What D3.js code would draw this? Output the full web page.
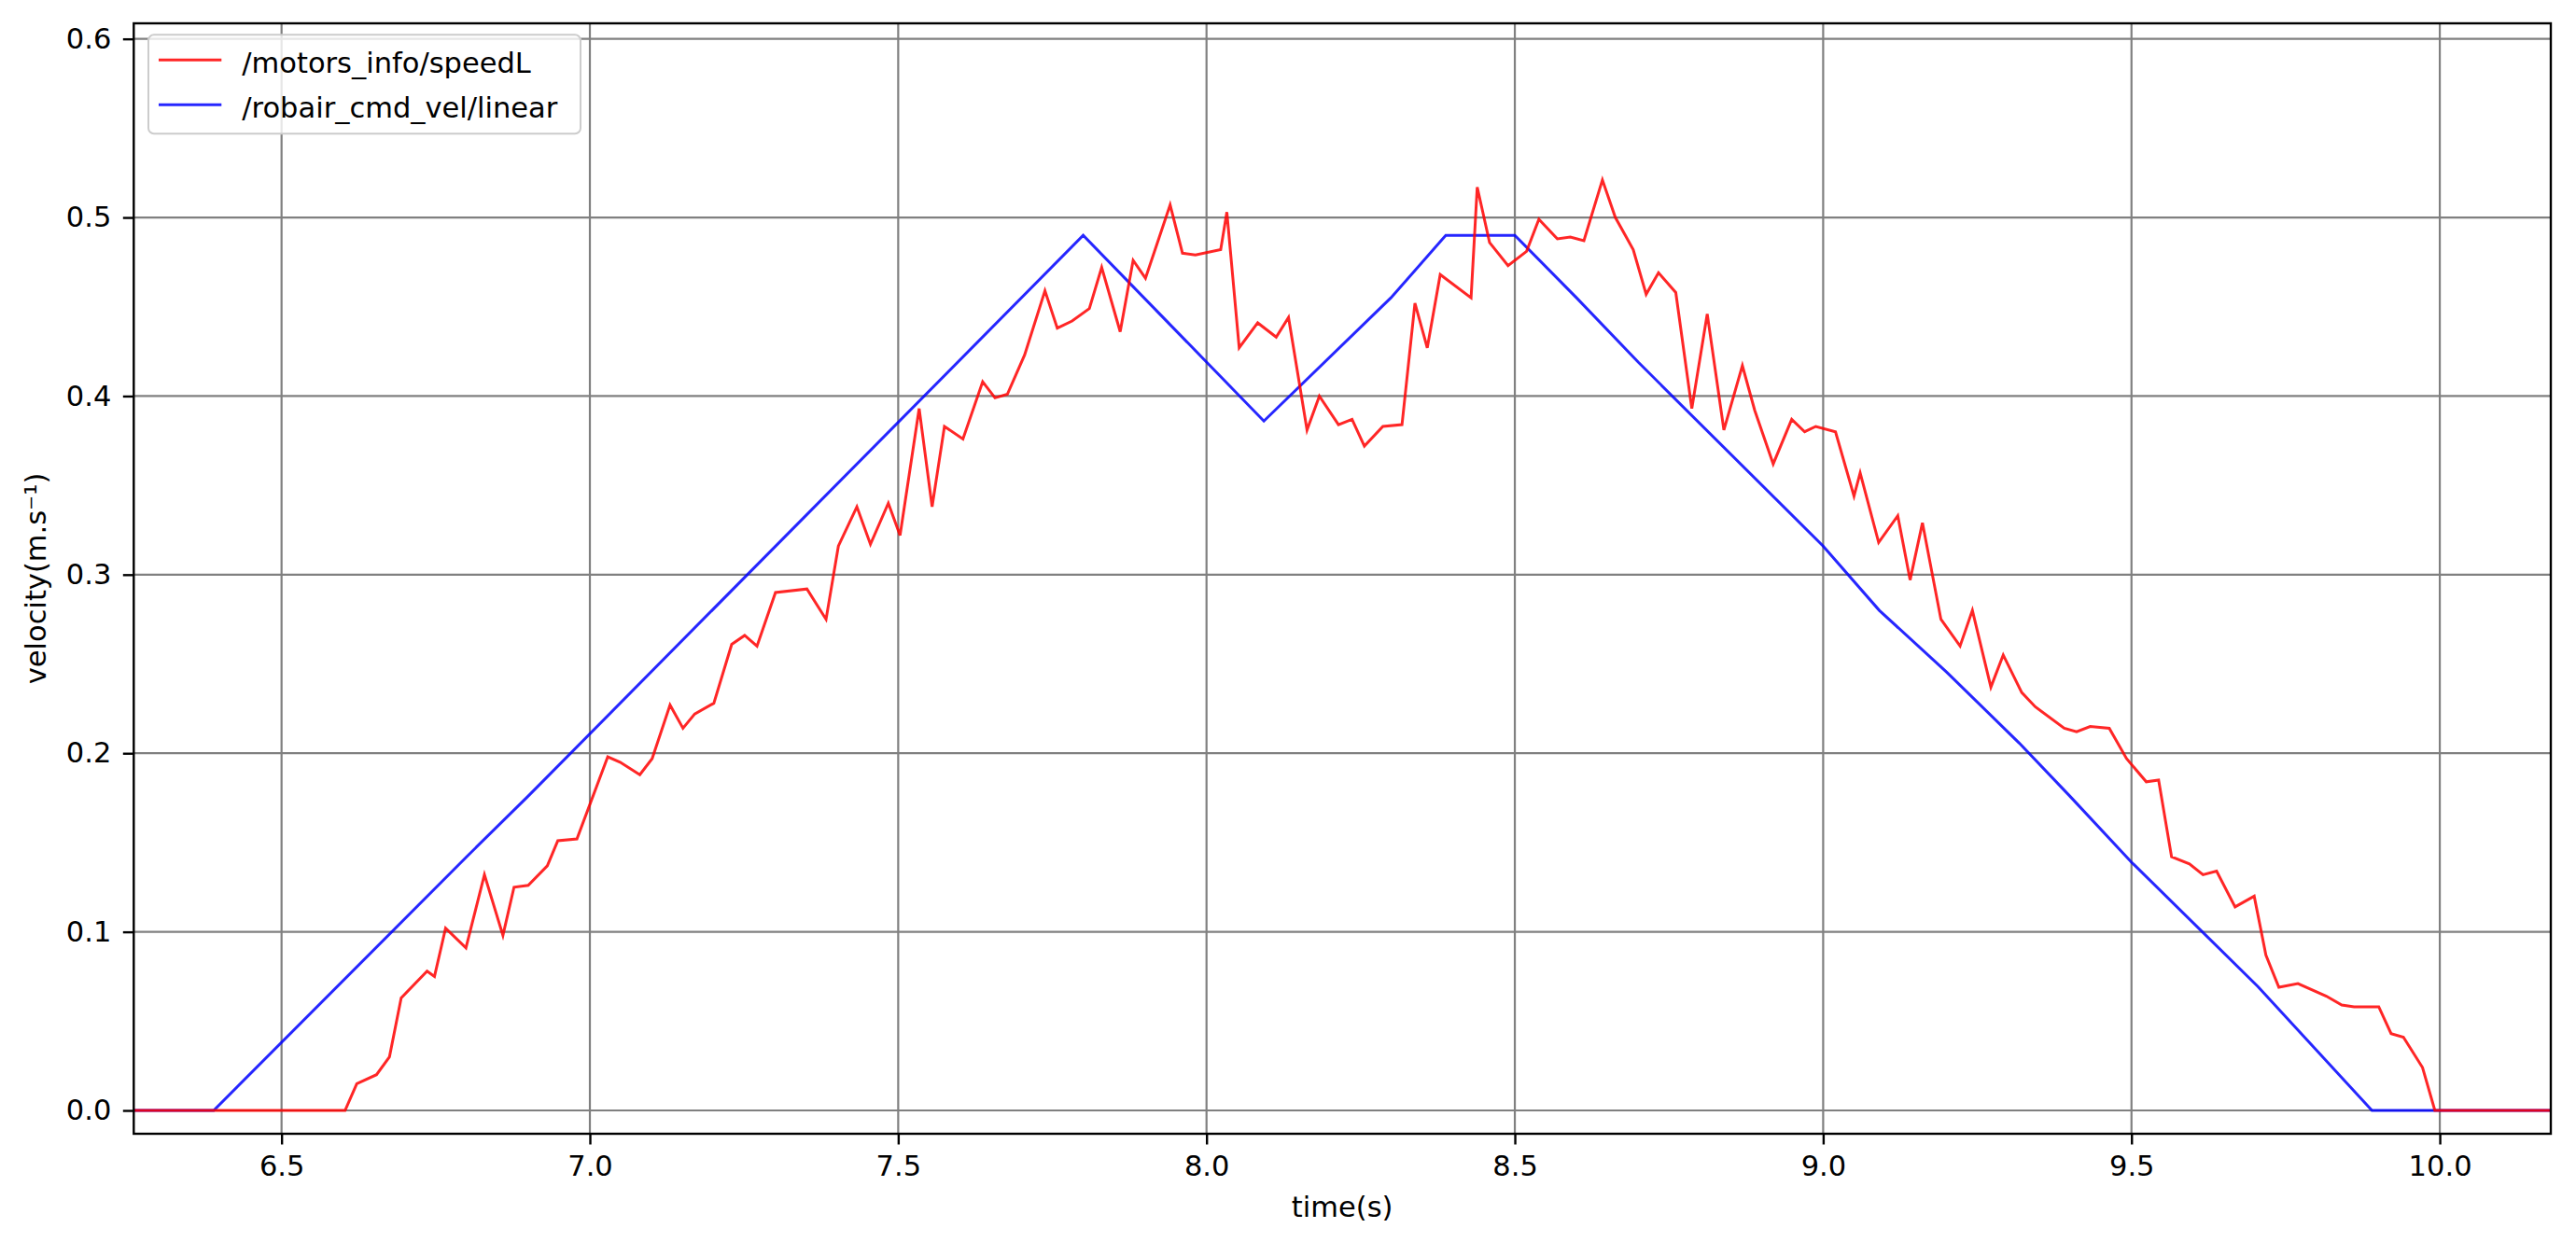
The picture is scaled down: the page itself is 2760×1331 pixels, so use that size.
<!DOCTYPE html>
<html><head><meta charset="utf-8">
<script src="https://cdn.jsdelivr.net/npm/d3@7"></script>
<style>body{margin:0;background:#fff}svg{display:block}</style>
</head><body>
<script>
// ---------- data ----------
const seriesNames = ["/motors_info/speedL", "/robair_cmd_vel/linear"];
const xTicks = [6.5, 7.0, 7.5, 8.0, 8.5, 9.0, 9.5, 10.0];
const yTicks = [0.0, 0.1, 0.2, 0.3, 0.4, 0.5, 0.6];
const xLabel = "time(s)";
const yLabel = "velocity(m.s\u207B\u00B9)";

const redT = [6.2603, 6.603, 6.622, 6.654, 6.675, 6.694, 6.736, 6.748, 6.766, 6.799, 6.829, 6.859, 6.877, 6.900, 6.931, 6.948, 6.979,
  7.029, 7.049, 7.081, 7.101, 7.130, 7.151, 7.170, 7.201, 7.230, 7.251, 7.271, 7.301, 7.352, 7.383, 7.403, 7.433, 7.455, 7.484,
  7.503, 7.534, 7.555, 7.575, 7.605, 7.637, 7.657, 7.677, 7.705, 7.738, 7.758, 7.782, 7.810, 7.830, 7.860, 7.881, 7.901, 7.941,
  7.961, 7.982, 8.023, 8.033, 8.053, 8.083, 8.113, 8.133, 8.163, 8.183, 8.214, 8.236, 8.256, 8.286, 8.317, 8.338, 8.358, 8.379,
  8.429, 8.439, 8.459, 8.489, 8.519, 8.539, 8.569, 8.590, 8.612, 8.642, 8.663, 8.692, 8.713, 8.733, 8.761, 8.787, 8.812, 8.839,
  8.869, 8.889, 8.919, 8.949, 8.970, 8.988, 9.020, 9.050, 9.060, 9.090, 9.121, 9.141, 9.161, 9.191, 9.222, 9.242, 9.272, 9.292,
  9.322, 9.344, 9.391, 9.411, 9.433, 9.464, 9.492, 9.524, 9.544, 9.565, 9.594, 9.616, 9.638, 9.668, 9.699, 9.718, 9.739, 9.770,
  9.816, 9.841, 9.861, 9.901, 9.921, 9.941, 9.972, 9.992, 10.180];
const redV = [0, 0, 0.015, 0.020, 0.030, 0.063, 0.078, 0.075, 0.102, 0.091, 0.132, 0.098, 0.125, 0.126, 0.137, 0.151, 0.152,
  0.198, 0.195, 0.188, 0.197, 0.227, 0.214, 0.222, 0.228, 0.261, 0.266, 0.260, 0.290, 0.292, 0.275, 0.316, 0.338, 0.317, 0.340,
  0.322, 0.393, 0.338, 0.383, 0.376, 0.408, 0.399, 0.401, 0.423, 0.459, 0.438, 0.442, 0.449, 0.472, 0.436, 0.476, 0.466, 0.507,
  0.480, 0.479, 0.482, 0.503, 0.427, 0.441, 0.433, 0.444, 0.381, 0.400, 0.384, 0.387, 0.372, 0.383, 0.384, 0.452, 0.427, 0.468,
  0.455, 0.517, 0.486, 0.473, 0.481, 0.499, 0.488, 0.489, 0.487, 0.521, 0.500, 0.482, 0.457, 0.469, 0.458, 0.393, 0.446, 0.381,
  0.417, 0.392, 0.362, 0.387, 0.380, 0.383, 0.380, 0.344, 0.357, 0.318, 0.333, 0.297, 0.329, 0.275, 0.260, 0.280, 0.237, 0.255,
  0.234, 0.226, 0.214, 0.212, 0.215, 0.214, 0.197, 0.184, 0.185, 0.142, 0.138, 0.132, 0.134, 0.114, 0.120, 0.087, 0.069, 0.071,
  0.064, 0.059, 0.058, 0.058, 0.043, 0.041, 0.024, 0, 0];

const blueT = [6.2603, 6.39, 6.8, 6.9, 7.8, 8.093, 8.299, 8.388, 8.5, 8.6, 8.7, 9.0, 9.091, 9.2, 9.318, 9.4, 9.5, 9.705, 9.89, 10.180];
const blueV = [0, 0, 0.142, 0.176, 0.490, 0.386, 0.455, 0.490, 0.490, 0.455, 0.419, 0.316, 0.280, 0.2455, 0.2057, 0.176, 0.139, 0.0694, 0, 0];

// ---------- layout ----------
const W = 2760, H = 1331;
const L = 143.3, R = 2733, T = 25, B = 1215;
const FONT = "'DejaVu Sans', sans-serif";
const FS = 30.5;

const x = d3.scaleLinear().domain([6.2603, 10.180]).range([L, R]);
const y = d3.scaleLinear().domain([-0.01306, 0.6087]).range([B, T]);

const svg = d3.select("body").append("svg").attr("width", W).attr("height", H)
  .style("font-family", FONT);
svg.append("rect").attr("width", W).attr("height", H).attr("fill", "#fff");

svg.append("defs").append("clipPath").attr("id", "clip")
  .append("rect").attr("x", L).attr("y", T).attr("width", R - L).attr("height", B - T);

// grid
const grid = svg.append("g").attr("stroke", "#808080").attr("stroke-width", 2.2);
grid.selectAll("line.gx").data(xTicks).join("line")
  .attr("x1", d => x(d)).attr("x2", d => x(d)).attr("y1", T).attr("y2", B);
grid.selectAll("line.gy").data(yTicks).join("line")
  .attr("y1", d => y(d)).attr("y2", d => y(d)).attr("x1", L).attr("x2", R);

// lines
const line = d3.line().x(d => x(d[0])).y(d => y(d[1]));
const blueData = blueT.map((t, i) => [t, blueV[i]]);
const redData = redT.map((t, i) => [t, redV[i]]);
const plot = svg.append("g").attr("clip-path", "url(#clip)");
plot.append("path").datum(blueData).attr("d", line)
  .attr("fill", "none").attr("stroke", "#0000ff").attr("stroke-opacity", 0.85)
  .attr("stroke-width", 3).attr("stroke-linejoin", "miter");
plot.append("path").datum(redData).attr("d", line)
  .attr("fill", "none").attr("stroke", "#ff0000").attr("stroke-opacity", 0.85)
  .attr("stroke-width", 3).attr("stroke-linejoin", "miter");

// axes
const ax = svg.append("g").attr("transform", `translate(0,${B})`)
  .call(d3.axisBottom(x).tickValues(xTicks).tickFormat(d3.format(".1f"))
    .tickSize(11.5).tickSizeOuter(0).tickPadding(11.8));
const ay = svg.append("g").attr("transform", `translate(${L},0)`)
  .call(d3.axisLeft(y).tickValues(yTicks).tickFormat(d3.format(".1f"))
    .tickSize(11.5).tickSizeOuter(0).tickPadding(12.5));
[ax, ay].forEach(g => {
  g.select(".domain").remove();
  g.selectAll(".tick line").attr("stroke", "#000").attr("stroke-width", 2.4);
  g.selectAll(".tick text").attr("fill", "#000").style("font-size", FS + "px").style("font-family", FONT);
});

// spines
svg.append("rect").attr("x", L).attr("y", T).attr("width", R - L).attr("height", B - T)
  .attr("fill", "none").attr("stroke", "#000").attr("stroke-width", 2.4);

// axis labels
svg.append("text").attr("x", (L + R) / 2).attr("y", 1304).attr("text-anchor", "middle")
  .style("font-size", FS + "px").attr("fill", "#000").text(xLabel);
svg.append("text").attr("transform", `translate(49,${(T + B) / 2}) rotate(-90)`)
  .attr("text-anchor", "middle").style("font-size", FS + "px").attr("fill", "#000").text(yLabel);

// legend
const lg = svg.append("g");
lg.append("rect").attr("x", 159).attr("y", 37.3).attr("width", 463).attr("height", 106).attr("rx", 6)
  .attr("fill", "#fff").attr("fill-opacity", 0.8).attr("stroke", "#cccccc").attr("stroke-width", 2);
const legColors = ["#ff0000", "#0000ff"];
const legY = [64.3, 112.3];
seriesNames.forEach((name, i) => {
  lg.append("line").attr("x1", 170).attr("x2", 237.3).attr("y1", legY[i]).attr("y2", legY[i])
    .attr("stroke", legColors[i]).attr("stroke-opacity", 0.85).attr("stroke-width", 3);
  lg.append("text").attr("x", 259.3).attr("y", legY[i] + 13.2)
    .style("font-size", FS + "px").attr("fill", "#000").text(name);
});
</script>
</body></html>
